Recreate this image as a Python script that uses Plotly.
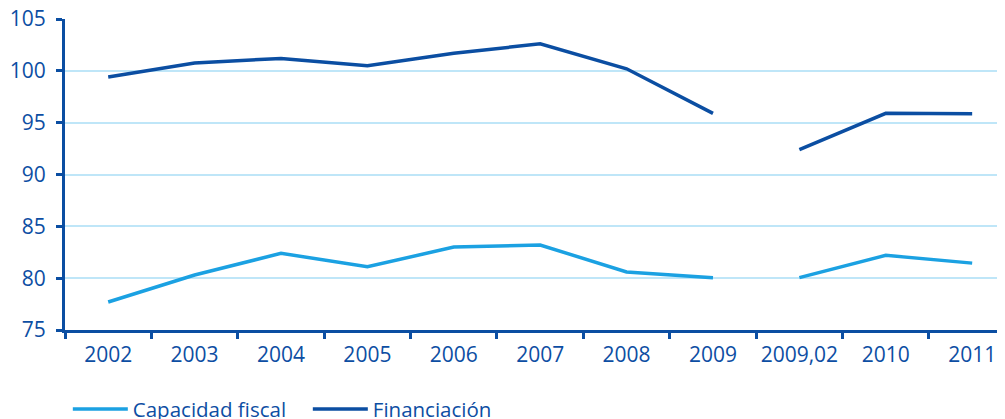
import plotly.graph_objects as go

categories = ["2002", "2003", "2004", "2005", "2006", "2007", "2008", "2009", "2009,02", "2010", "2011"]
capacidad_fiscal = [77.7, 80.3, 82.4, 81.1, 83.0, 83.2, 80.6, 80.05, 80.05, 82.2, 81.45]
financiacion = [99.4, 100.75, 101.2, 100.5, 101.7, 102.6, 100.2, 95.9, 92.4, 95.9, 95.85]
break_after = 7  # line is interrupted between "2009" and "2009,02"

C_LIGHT = "#1ba1e2"
C_DARK = "#0b4ea2"
TXT = "#0d4ea3"
FONT = "Open Sans"

fig = go.Figure()
for name, vals, color in [("Capacidad fiscal", capacidad_fiscal, C_LIGHT),
                          ("Financiación", financiacion, C_DARK)]:
    segs = [(categories[:break_after + 1], vals[:break_after + 1]),
            (categories[break_after + 1:], vals[break_after + 1:])]
    for i, (xs, ys) in enumerate(segs):
        fig.add_trace(go.Scatter(
            x=xs, y=ys, mode="lines", name=name, legendgroup=name,
            showlegend=(i == 0), line=dict(color=color, width=3.5),
        ))

# page body has an 8px default margin, so the figure is sized to compensate
fig.update_layout(
    width=997, height=411,
    margin=dict(l=57, r=0, t=11, b=89, autoexpand=False),
    paper_bgcolor="white", plot_bgcolor="white",
    font=dict(family=FONT, color=TXT, size=21),
    showlegend=True,
    legend=dict(orientation="h", x=0.003, xanchor="left", y=-0.19, yanchor="top",
                font=dict(size=20.5, color=TXT), itemwidth=55, tracegroupgap=0,
                entrywidth=170, traceorder="normal"),
    xaxis=dict(type="category", categoryorder="array", categoryarray=categories,
               range=[-0.5, 10.38], showgrid=False, showline=True, linecolor=C_DARK,
               linewidth=3, ticks="outside", tickson="boundaries", ticklen=6,
               tickwidth=3, tickcolor=C_DARK, ticklabelstandoff=4, tickangle=0,
               tickfont=dict(size=21, color=TXT)),
    yaxis=dict(range=[75, 105], dtick=5, showgrid=True, gridcolor="#bfe6f8",
               gridwidth=2, showline=True, linecolor=C_DARK, linewidth=3,
               ticks="outside", ticklen=6, tickwidth=3, tickcolor=C_DARK,
               ticklabelstandoff=6, ticklabeloverflow="allow",
               zeroline=False, tickfont=dict(size=21, color=TXT)),
)

fig.write_html("out.html")
